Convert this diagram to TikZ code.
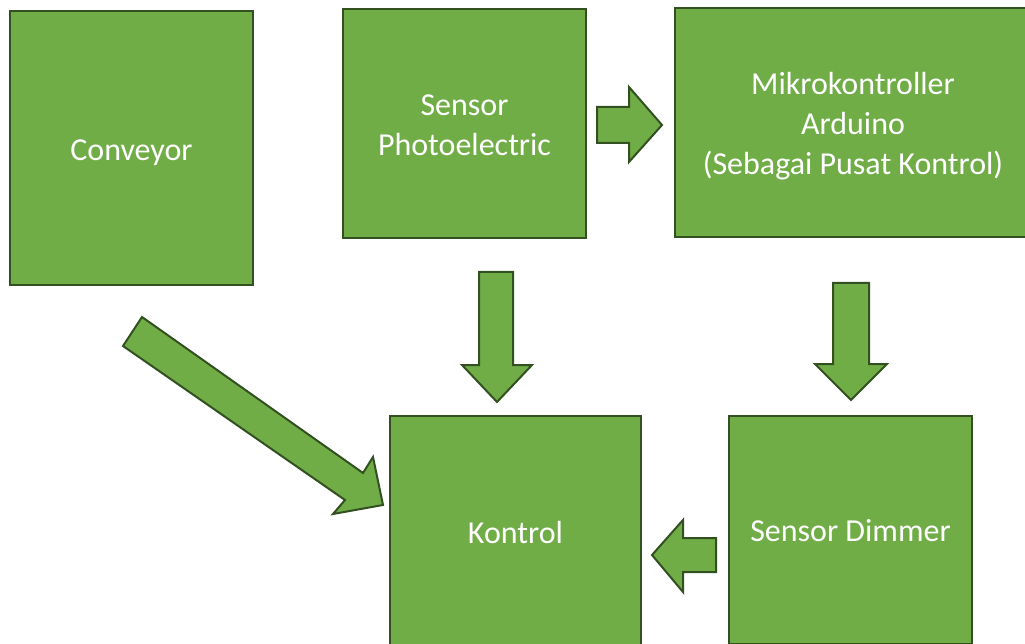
\documentclass[tikz,border=0pt]{standalone}
\usepackage{fontspec}
\setmainfont{Carlito}
\definecolor{boxfill}{HTML}{70AD47}
\definecolor{boxline}{HTML}{325020}
\begin{document}
\begin{tikzpicture}[x=1pt,y=-1pt,
  box/.style={rectangle,draw=boxline,fill=boxfill,line width=2pt,inner sep=0pt},
  boxtext/.style={text=white,font=\fontsize{32}{40}\selectfont,align=center,inner sep=0pt},
  blockarrow/.style={draw=boxline,fill=boxfill,line width=2pt,line join=miter}]
\useasboundingbox (0,0) rectangle (1025,644);
\clip (0,0) rectangle (1025,644);
\node[box,minimum width=243pt,minimum height=274pt] (conv) at (131.5,148) {};
\node[box,minimum width=243pt,minimum height=229pt] (photo) at (464.5,123.5) {};
\node[box,minimum width=356pt,minimum height=229pt] (mikro) at (853,122.5) {};
\node[box,minimum width=251pt,minimum height=232pt] (kontrol) at (515.5,532) {};
\node[box,minimum width=243pt,minimum height=228pt] (dimmer) at (850.5,530) {};
\node[boxtext] (convt) at ([yshift=-5pt]conv.center) {Conveyor};
\node[boxtext] (photot) at ([yshift=-2pt]photo.center) {Sensor\\Photoelectric};
\node[boxtext] (mikrot) at ([yshift=-4pt]mikro.center) {Mikrokontroller\\Arduino\\(Sebagai Pusat Kontrol)};
\node[boxtext] (kontrolt) at ([yshift=-1pt]kontrol.center) {Kontrol};
\node[boxtext] (dimmert) at ([yshift=-1pt]dimmer.center) {Sensor Dimmer};
% photo -> mikro
\draw[blockarrow] (597,107) -- (629,107) -- (629,87) -- (662,125) -- (629,162) -- (629,143) -- (597,143) -- cycle;
% photo -> kontrol
\draw[blockarrow] (479,272) -- (513,272) -- (513,365) -- (532,365) -- (497,402) -- (462,365) -- (479,365) -- cycle;
% mikro -> dimmer
\draw[blockarrow] (833,283) -- (869,283) -- (869,364) -- (887,364) -- (851,400) -- (815,364) -- (833,364) -- cycle;
% dimmer -> kontrol
\draw[blockarrow] (716,538) -- (716,572) -- (683,572) -- (683,592) -- (652,555) -- (683,520) -- (683,538) -- cycle;
% conveyor -> kontrol
\draw[blockarrow] (142,317) -- (363,473) -- (373,457) -- (383,505) -- (333,514) -- (345,500) -- (123,346) -- cycle;
\end{tikzpicture}
\end{document}
